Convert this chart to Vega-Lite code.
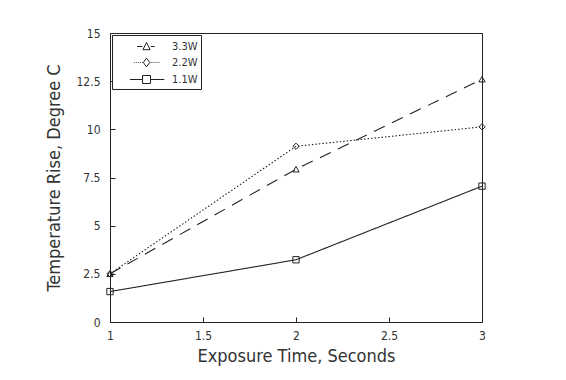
{
  "$schema": "https://vega.github.io/schema/vega-lite/v6.json",
  "width": 372,
  "height": 289,
  "autosize": {"type": "none"},
  "padding": {"left": 110, "top": 33, "right": 84, "bottom": 58},
  "background": "white",
  "data": {
    "values": [
      {"time": 1, "rise": 2.5, "power": "3.3W"},
      {"time": 2, "rise": 7.93, "power": "3.3W"},
      {"time": 3, "rise": 12.6, "power": "3.3W"},
      {"time": 1, "rise": 2.5, "power": "2.2W"},
      {"time": 2, "rise": 9.12, "power": "2.2W"},
      {"time": 3, "rise": 10.13, "power": "2.2W"},
      {"time": 1, "rise": 1.58, "power": "1.1W"},
      {"time": 2, "rise": 3.23, "power": "1.1W"},
      {"time": 3, "rise": 7.05, "power": "1.1W"}
    ]
  },
  "config": {
    "view": {"stroke": "#222", "strokeWidth": 1},
    "font": "DejaVu Sans Condensed, Liberation Sans Narrow, DejaVu Sans",
    "axis": {
      "grid": false,
      "domainColor": "#222",
      "ticks": true,
      "tickColor": "#222",
      "tickWidth": 1,
      "tickOpacity": 1,
      "labelColor": "#333",
      "titleColor": "#333",
      "labelFont": "DejaVu Sans Condensed, Liberation Sans Narrow, DejaVu Sans",
      "titleFont": "DejaVu Sans Condensed, Liberation Sans Narrow, DejaVu Sans",
      "labelFontSize": 12,
      "titleFontSize": 18,
      "titleFontWeight": "normal"
    }
  },
  "encoding": {
    "x": {
      "field": "time",
      "type": "quantitative",
      "scale": {"domain": [1, 3], "nice": false, "zero": false},
      "axis": {"values": [1, 1.5, 2, 2.5, 3], "format": ".1~f", "tickSize": -5, "labelPadding": 13, "title": "Exposure Time, Seconds", "titlePadding": 6, "labelFlush": false}
    },
    "y": {
      "field": "rise",
      "type": "quantitative",
      "scale": {"domain": [0, 15], "nice": false},
      "axis": {"values": [0, 2.5, 5, 7.5, 10, 12.5, 15], "format": ".1~f", "tickSize": -5, "labelPadding": 15, "title": "Temperature Rise, Degree C", "titlePadding": 12}
    }
  },
  "layer": [
    {
      "mark": {"type": "line", "color": "#222", "strokeWidth": 1.1},
      "encoding": {
        "strokeDash": {
          "field": "power",
          "type": "nominal",
          "scale": {"domain": ["3.3W", "2.2W", "1.1W"], "range": [[12, 8], [1.5, 2], [1, 0]]},
          "legend": null
        }
      }
    },
    {
      "mark": {"type": "point", "filled": false, "color": "#222", "strokeWidth": 1, "size": 40, "opacity": 1},
      "encoding": {
        "shape": {
          "field": "power",
          "type": "nominal",
          "scale": {"domain": ["3.3W", "2.2W", "1.1W"], "range": ["triangle-up", "diamond", "square"]},
          "legend": null
        }
      }
    },
    {
      "mark": {"type": "point", "filled": false, "color": "#222", "strokeWidth": 1, "size": 256, "opacity": 0},
      "encoding": {
        "shape": {
          "field": "power",
          "type": "nominal",
          "scale": {"domain": ["3.3W", "2.2W", "1.1W"], "range": [
            "M1.7,0H2.35M2.88,-0.5L3.33,0.4L2.43,0.4ZM3.4,0H3.9",
            "M1.3,0h0.1M1.55,0h0.1M1.8,0h0.1M2.05,0h0.1M2.3,0h0.1M2.88,-0.55L3.28,0L2.88,0.55L2.48,0ZM3.4,0h0.1M3.65,0h0.1M3.9,0h0.1M4.15,0h0.1M4.4,0h0.1",
            "M0.8,0H2.38M2.38,-0.5H3.38V0.5H2.38ZM3.38,0H5.1"
          ]},
          "legend": {
            "title": null,
            "orient": "top-left",
            "offset": 2,
            "padding": 3,
            "strokeColor": "#222",
            "fillColor": "white",
            "symbolSize": 256,
            "symbolOpacity": 1,
            "symbolFillColor": "transparent",
            "symbolStrokeColor": "#222",
            "symbolStrokeWidth": 1,
            "labelOffset": 40,
            "labelFontSize": 11,
            "labelColor": "#333",
            "rowPadding": 2
          }
        }
      }
    }
  ],
  "resolve": {"scale": {"shape": "independent"}, "legend": {"strokeDash": "independent", "shape": "independent"}}
}
